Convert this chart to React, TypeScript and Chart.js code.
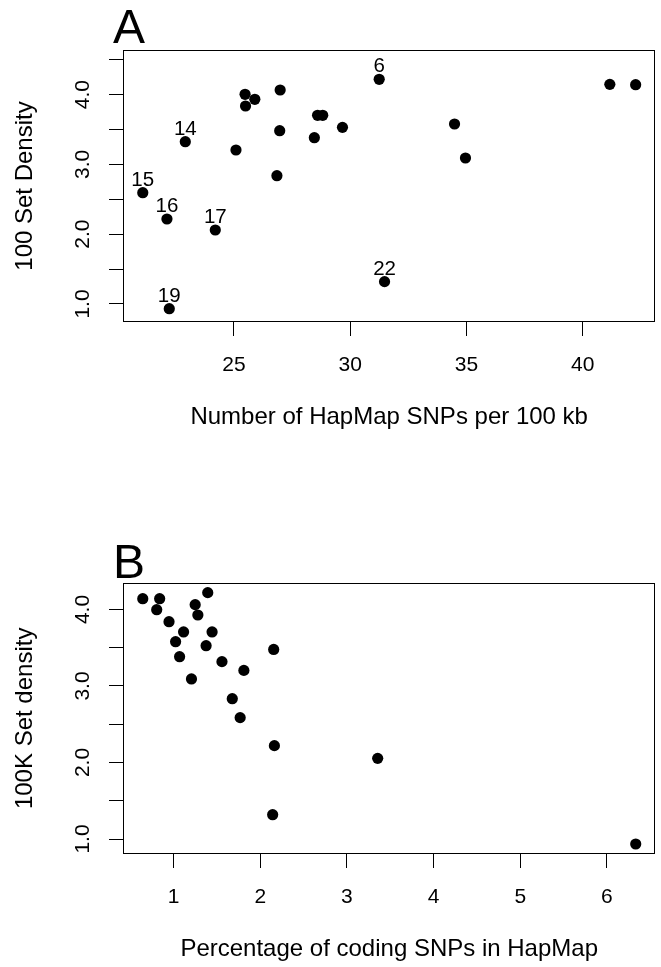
import React, { useEffect, useRef } from 'react';
import { Chart, registerables } from 'chart.js';

Chart.register(...registerables);

const FONT = '"Liberation Sans", Arial, Helvetica, sans-serif';
const TICK_SIZE = 21;
const LABEL_SIZE = 20.5;
const TITLE_SIZE = 24;

// ---------- Panel A data ----------
const snpsPer100kb = [22.91, 21.08, 22.12, 24.2, 22.22, 25.09, 25.48, 25.5, 25.9, 26.99, 26.97, 26.85, 28.46, 28.6, 28.82, 29.67, 31.25, 31.48, 34.49, 34.96, 41.17, 42.28];
const density100 = [3.325, 2.595, 2.218, 2.06, 0.933, 3.206, 4.004, 3.837, 3.933, 4.066, 3.483, 2.838, 3.383, 3.703, 3.703, 3.531, 4.219, 1.32, 3.579, 3.092, 4.147, 4.142];
const chromLabelsA = ['14', '15', '16', '17', '19', '', '', '', '', '', '', '', '', '', '', '', '6', '22', '', '', '', ''];
const xTicksA = [25, 30, 35, 40];
const yTicksA = [1, 1.5, 2, 2.5, 3, 3.5, 4, 4.5];
const yLabelsA = [1, 2, 3, 4];

// ---------- Panel B data ----------
const codingPct = [0.644, 0.805, 0.839, 0.947, 1.023, 1.115, 1.069, 1.206, 1.394, 1.249, 1.28, 1.444, 1.375, 1.558, 1.811, 1.677, 1.768, 2.155, 2.163, 2.143, 3.355, 6.333];
const density100K = [4.141, 3.997, 4.141, 3.84, 3.579, 3.706, 3.383, 3.092, 4.22, 4.063, 3.928, 3.706, 3.527, 3.318, 3.204, 2.834, 2.586, 3.478, 2.22, 1.318, 2.054, 0.935];
const xTicksB = [1, 2, 3, 4, 5, 6];
const yTicksB = [1, 1.5, 2, 2.5, 3, 3.5, 4];
const yLabelsB = [1, 2, 3, 4];

type PanelCfg = {
  letter: string;
  x: number[];
  y: number[];
  labels: string[];
  xTicks: number[];
  yTicks: number[];
  yLabels: number[];
  xMin: number; xMax: number; yMin: number; yMax: number;
  xTitle: string; yTitle: string;
  pageTop: number;
  padTop: number;
  letterBaseline: number;
};

const panels: PanelCfg[] = [
  {
    letter: 'A', x: snpsPer100kb, y: density100, labels: chromLabelsA,
    xTicks: xTicksA, yTicks: yTicksA, yLabels: yLabelsA,
    xMin: 20.23, xMax: 43.13, yMin: 0.742, yMax: 4.639,
    xTitle: 'Number of HapMap SNPs per 100 kb', yTitle: '100 Set Density',
    pageTop: 0, padTop: 50, letterBaseline: 43.3,
  },
  {
    letter: 'B', x: codingPct, y: density100K, labels: [],
    xTicks: xTicksB, yTicks: yTicksB, yLabels: yLabelsB,
    xMin: 0.416, xMax: 6.56, yMin: 0.804, yMax: 4.35,
    xTitle: 'Percentage of coding SNPs in HapMap', yTitle: '100K Set density',
    pageTop: 532, padTop: 50.7, letterBaseline: 46.3,
  },
];

const CANVAS_W = 661;
const CANVAS_H = 435;

function Panel({ cfg }: { cfg: PanelCfg }) {
  const ref = useRef<HTMLCanvasElement | null>(null);
  useEffect(() => {
    if (!ref.current) return;
    const rPlugin = {
      id: 'rstyle',
      afterDatasetsDraw(chart: any) {
        const { ctx, chartArea: ca, scales } = chart;
        ctx.save();
        // plot box
        ctx.strokeStyle = '#000';
        ctx.lineWidth = 1;
        ctx.strokeRect(Math.round(ca.left) + 0.5, Math.round(ca.top) + 0.5, Math.round(ca.right - ca.left) - 1, Math.round(ca.bottom - ca.top) - 1);
        ctx.fillStyle = '#000';
        // point labels
        ctx.font = `${LABEL_SIZE}px ${FONT}`;
        ctx.textAlign = 'center';
        ctx.textBaseline = 'alphabetic';
        cfg.labels.forEach((lab, i) => {
          if (!lab) return;
          const px = scales.x.getPixelForValue(cfg.x[i]);
          const py = scales.y.getPixelForValue(cfg.y[i]);
          ctx.fillText(lab, px, py - 7);
        });
        // rotated y tick labels
        ctx.font = `${TICK_SIZE}px ${FONT}`;
        cfg.yLabels.forEach((v) => {
          const py = scales.y.getPixelForValue(v);
          ctx.save();
          ctx.translate(89, py);
          ctx.rotate(-Math.PI / 2);
          ctx.fillText(v.toFixed(1), 0, 0);
          ctx.restore();
        });
        // panel letter
        ctx.font = `48px ${FONT}`;
        ctx.textAlign = 'left';
        ctx.fillText(cfg.letter, 113, cfg.letterBaseline);
        ctx.restore();
      },
    };
    const chart = new Chart(ref.current, {
      type: 'scatter',
      data: {
        datasets: [
          {
            data: cfg.x.map((x, i) => ({ x, y: cfg.y[i] })),
            backgroundColor: '#000',
            borderColor: '#000',
            borderWidth: 0,
            pointRadius: 5.6,
            pointHoverRadius: 5.6,
            clip: false as any,
          },
        ],
      },
      options: {
        responsive: false,
        animation: false,
        events: [],
        layout: { padding: { top: cfg.padTop, right: 3, bottom: 0, left: 0 } },
        plugins: { legend: { display: false }, tooltip: { enabled: false } },
        scales: {
          x: {
            type: 'linear',
            position: 'bottom',
            min: cfg.xMin,
            max: cfg.xMax,
            afterBuildTicks: (s: any) => { s.ticks = cfg.xTicks.map((v) => ({ value: v })); },
            afterFit: (s: any) => { s.height = CANVAS_H - 322; },
            border: { display: false },
            grid: { display: true, drawOnChartArea: false, drawTicks: true, tickLength: 14, tickColor: '#000', tickWidth: 1 },
            ticks: { color: '#000', font: { family: FONT, size: TICK_SIZE }, padding: 17, maxRotation: 0, minRotation: 0, autoSkip: false, callback: (v: any) => String(v) },
            title: { display: true, text: cfg.xTitle, color: '#000', font: { family: FONT, size: TITLE_SIZE }, padding: { top: 0, bottom: 3 } },
          },
          y: {
            type: 'linear',
            position: 'left',
            min: cfg.yMin,
            max: cfg.yMax,
            afterBuildTicks: (s: any) => { s.ticks = cfg.yTicks.map((v) => ({ value: v })); },
            afterFit: (s: any) => { s.width = 123; },
            border: { display: false },
            grid: { display: true, drawOnChartArea: false, drawTicks: true, tickLength: 14, tickColor: '#000', tickWidth: 1 },
            ticks: { display: false },
            title: { display: true, text: cfg.yTitle, color: '#000', font: { family: FONT, size: TITLE_SIZE }, padding: { top: 10.5, bottom: 0 } },
          },
        },
      } as any,
      plugins: [rPlugin as any],
    });
    return () => chart.destroy();
  }, [cfg]);
  return (
    <canvas
      ref={ref}
      width={CANVAS_W}
      height={CANVAS_H}
      style={{ position: 'absolute', left: 0, top: cfg.pageTop, width: CANVAS_W, height: CANVAS_H, display: 'block' }}
    />
  );
}

export default function App() {
  return (
    <div style={{ position: 'absolute', left: 0, top: 0, width: 661, height: 967, background: '#fff', overflow: 'hidden' }}>
      {panels.map((p) => (
        <Panel key={p.letter} cfg={p} />
      ))}
    </div>
  );
}
